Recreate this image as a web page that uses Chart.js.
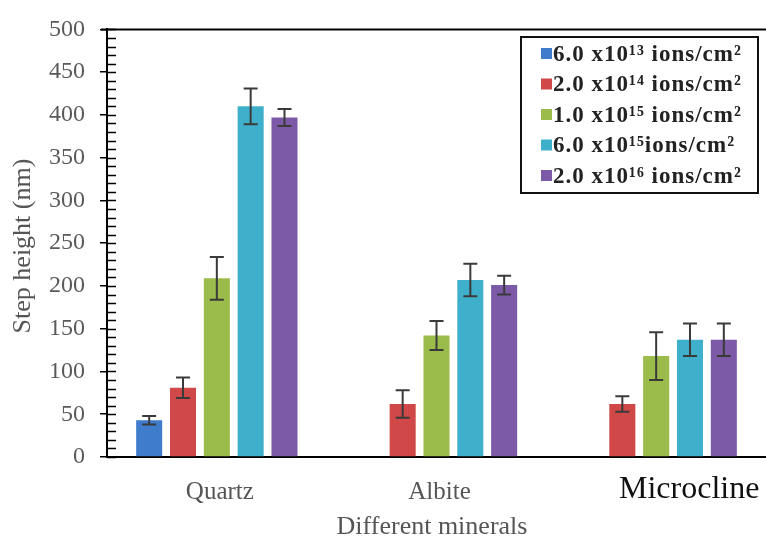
<!DOCTYPE html>
<html>
<head>
<meta charset="utf-8">
<script src="https://cdn.jsdelivr.net/npm/chart.js@4/dist/chart.umd.min.js"></script>
<style>
  html, body { margin: 0; padding: 0; background: #fff; }
  #wrap { width: 766px; height: 543px; }
</style>
</head>
<body>
<div id="wrap"><canvas id="chart" width="766" height="543"></canvas></div>
<script>
// Minerals on the x axis
const minerals = ['Quartz', 'Albite', 'Microcline'];

// Fluence series (legend labels)
const fluences = [
    '6.0 x10\u00B9\u00B3 ions/cm\u00B2',
    '2.0 x10\u00B9\u2074 ions/cm\u00B2',
    '1.0 x10\u00B9\u2075 ions/cm\u00B2',
    '6.0 x10\u00B9\u2075ions/cm\u00B2',
    '2.0 x10\u00B9\u2076 ions/cm\u00B2'
];

// Step heights (nm)
const fluence1 = [43, null, null];
const fluence2 = [81, 62, 62];
const fluence3 = [209, 142, 118];
const fluence4 = [410, 207, 137];
const fluence5 = [397, 201, 137];

// Error bar half-lengths (nm)
const err1 = [5, null, null];
const err2 = [12, 16, 9];
const err3 = [25, 17, 28];
const err4 = [21, 19, 19];
const err5 = [10, 11, 19];

const yTicks = [0, 50, 100, 150, 200, 250, 300, 350, 400, 450, 500];

const colors = ['#3f7dcc', '#d04848', '#9bbb4a', '#3fb0cc', '#7d5aa8'];
const seriesValues = [fluence1, fluence2, fluence3, fluence4, fluence5];
const seriesErrors = [err1, err2, err3, err4, err5];

// error bars on top of each bar
const errorBars = {
    id: 'errorBars',
    afterDatasetsDraw(chart) {
        const ctx = chart.ctx;
        const y = chart.scales.y;
        ctx.save();
        ctx.strokeStyle = '#3a3a3a';
        ctx.lineWidth = 2;
        chart.data.datasets.forEach((ds, i) => {
            const meta = chart.getDatasetMeta(i);
            meta.data.forEach((bar, j) => {
                const v = ds.data[j];
                const e = seriesErrors[i][j];
                if (v == null || e == null) return;
                const x = bar.x;
                const top = y.getPixelForValue(v + e);
                const bot = y.getPixelForValue(v - e);
                ctx.beginPath();
                ctx.moveTo(x, top); ctx.lineTo(x, bot);
                ctx.moveTo(x - 7, top); ctx.lineTo(x + 7, top);
                ctx.moveTo(x - 7, bot); ctx.lineTo(x + 7, bot);
                ctx.stroke();
            });
        });
        ctx.restore();
    }
};

// axis decorations, category labels, titles and the boxed legend
const decorations = {
    id: 'decorations',
    afterDraw(chart) {
        const ctx = chart.ctx;
        const area = chart.chartArea;
        const y = chart.scales.y;
        const x = chart.scales.x;
        ctx.save();

        // top frame line
        ctx.strokeStyle = '#000';
        ctx.lineWidth = 2;
        ctx.beginPath();
        ctx.moveTo(area.left - 6, area.top);
        ctx.lineTo(chart.width, area.top);
        ctx.stroke();

        // minor ticks every 10, pointing inward
        ctx.lineWidth = 1.5;
        ctx.beginPath();
        for (let v = 0; v <= 500; v += 10) {
            const py = Math.round(y.getPixelForValue(v)) + 0.5;
            ctx.moveTo(area.left, py);
            ctx.lineTo(area.left + 9, py);
        }
        ctx.stroke();

        // category labels
        ctx.textAlign = 'center';
        ctx.textBaseline = 'middle';
        minerals.forEach((m, i) => {
            const px = x.getPixelForTick(i);
            if (m === 'Microcline') {
                ctx.fillStyle = '#111';
                ctx.font = '32px "Liberation Serif"';
                ctx.fillText(m, px + 33, 490);
            } else {
                ctx.fillStyle = '#555';
                ctx.font = '25px "Liberation Serif"';
                ctx.fillText(m, px + 3, 492);
            }
        });

        // axis titles
        ctx.fillStyle = '#555';
        ctx.font = '26px "Liberation Serif"';
        ctx.fillText('Different minerals', 432, 527);
        ctx.save();
        ctx.translate(23, 246);
        ctx.rotate(-Math.PI / 2);
        ctx.fillText('Step height (nm)', 0, 0);
        ctx.restore();

        // legend box
        const lx = 521, ly = 37, lw = 237, lh = 156;
        ctx.fillStyle = '#fff';
        ctx.fillRect(lx, ly, lw, lh);
        ctx.strokeStyle = '#111';
        ctx.lineWidth = 2;
        ctx.strokeRect(lx, ly, lw, lh);
        ctx.textAlign = 'left';
        ctx.font = 'bold 23px "Liberation Serif"';
        ctx.letterSpacing = '1px';
        fluences.forEach((label, i) => {
            const cy = ly + 17 + i * 30.5;
            ctx.fillStyle = colors[i];
            ctx.fillRect(lx + 20, cy - 6, 11, 11);
            ctx.fillStyle = '#222';
            ctx.fillText(label, lx + 32, cy + 1);
        });
        ctx.restore();
    }
};

const ctx = document.getElementById('chart').getContext('2d');
const myChart = new Chart(ctx, {
    type: 'bar',
    data: {
        labels: minerals,
        datasets: fluences.map((label, i) => ({
            label: label,
            data: seriesValues[i],
            backgroundColor: colors[i],
            categoryPercentage: 0.77,
            barPercentage: 0.77
        }))
    },
    options: {
        responsive: false,
        animation: false,
        layout: { padding: { top: 27, right: 0, left: 0, bottom: 0 } },
        plugins: {
            legend: { display: false },
            tooltip: { enabled: false }
        },
        scales: {
            x: {
                grid: { display: false },
                border: { color: '#000', width: 2 },
                ticks: { display: false },
                afterFit: (scale) => { scale.height = 86; }
            },
            y: {
                min: 0,
                max: 500,
                afterBuildTicks: (scale) => { scale.ticks = yTicks.map(v => ({ value: v })); },
                grid: { drawOnChartArea: false, tickLength: 7, color: '#000', lineWidth: 1.5 },
                border: { color: '#000', width: 2 },
                ticks: {
                    color: '#5a5a5a',
                    padding: 15,
                    font: { family: '"Liberation Serif"', size: 24 }
                },
                afterFit: (scale) => { scale.width = 107; }
            }
        }
    },
    plugins: [errorBars, decorations]
});
</script>
</body>
</html>
